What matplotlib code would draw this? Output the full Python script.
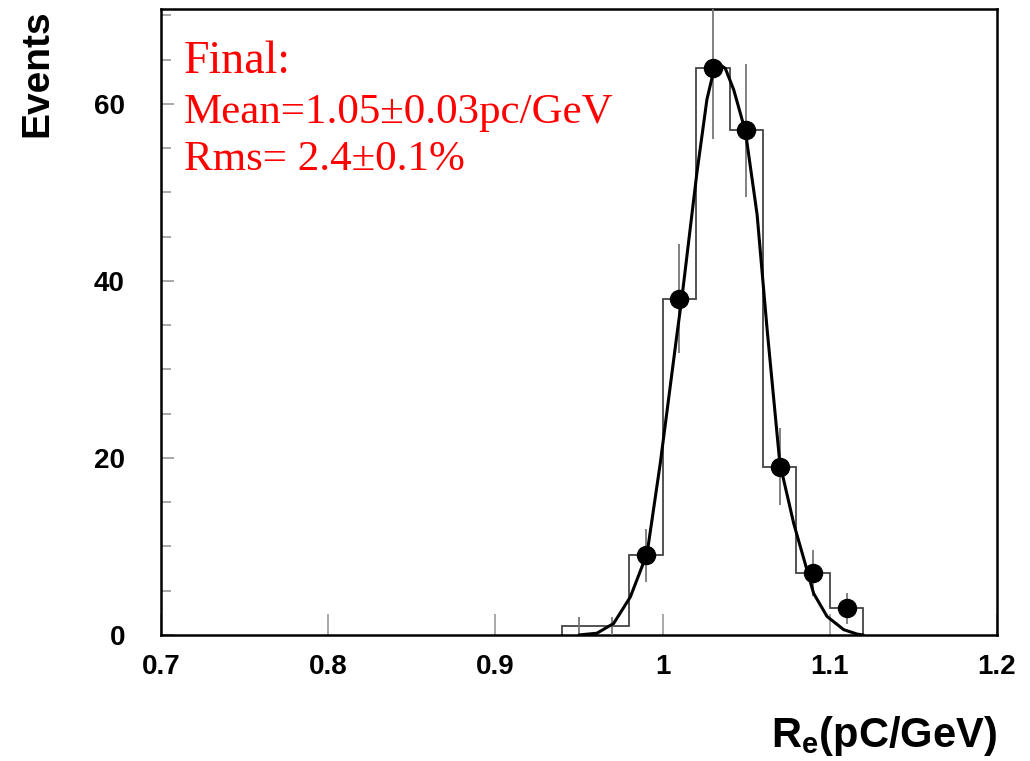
import numpy as np
import matplotlib
matplotlib.use("Agg")
import matplotlib.pyplot as plt

# histogram of R_e (bins of 0.02 pC/GeV)
bin_edges = [0.94, 0.96, 0.98, 1.00, 1.02, 1.04, 1.06, 1.08, 1.10, 1.12]
counts = [1, 1, 9, 38, 64, 57, 19, 7, 3]

# fitted curve, points
fit_x = [0.950, 0.9607, 0.9707, 0.9807, 0.9907, 0.9986, 1.0086, 1.0116,
         1.0205, 1.0265, 1.0305, 1.0345, 1.0375, 1.0425, 1.0495, 1.0565,
         1.0625, 1.0701, 1.0784, 1.0864, 1.0903, 1.0983, 1.1083, 1.1163, 1.120]
fit_y = [0.0, 0.2, 1.3, 4.3, 9.2, 19.4, 34.0, 38.2,
         52.2, 60.5, 63.7, 64.4, 64.0, 61.6, 56.9, 47.5,
         34.5, 19.4, 12.6, 7.3, 4.7, 2.1, 0.6, 0.1, 0.0]

text_lines = ["Final:", "Mean=1.05\u00b10.03pc/GeV", "Rms= 2.4\u00b10.1%"]

plt.rcParams["font.family"] = ["Liberation Sans", "DejaVu Sans"]
plt.rcParams["mathtext.fontset"] = "custom"
plt.rcParams["mathtext.rm"] = "Liberation Sans:bold"
plt.rcParams["mathtext.default"] = "rm"

fig = plt.figure(figsize=(10.30, 7.61), dpi=100)
ax = fig.add_axes([0.1563, 0.1656, 0.9680 - 0.1563, 0.988 - 0.1656])

edges = np.array(bin_edges)
cnt = np.array(counts, dtype=float)
centers = 0.5 * (edges[:-1] + edges[1:])

ax.stairs(cnt, edges, color="#444444", lw=1.3, zorder=2)
ax.errorbar(centers, cnt, yerr=np.sqrt(cnt), fmt="none", ecolor="#777777",
            elinewidth=1.3, capsize=0, zorder=3)
m = cnt > 1
ax.plot(centers[m], cnt[m], "o", color="black", ms=13, zorder=4)
ax.plot(fit_x, fit_y, color="black", lw=2.2, zorder=5, solid_capstyle="round")

ax.set_xlim(0.7, 1.2)
ax.set_ylim(0, 70.7)
ax.set_xticks([0.7, 0.8, 0.9, 1.0, 1.1, 1.2])
ax.set_xticklabels(["0.7", "0.8", "0.9", "1", "1.1", "1.2"])
ax.set_yticks([0, 20, 40, 60])
ax.set_yticks(np.arange(0, 71, 5), minor=True)

ax.tick_params(axis="both", which="both", direction="in", color="#999999",
               labelsize=20, width=1.2)
ax.tick_params(axis="x", which="major", length=15, pad=14)
ax.tick_params(axis="y", which="major", length=9, pad=26)
ax.tick_params(axis="y", which="minor", length=7)
for lab in ax.get_xticklabels() + ax.get_yticklabels():
    lab.set_fontweight("bold")

for sp in ax.spines.values():
    sp.set_linewidth(1.8)
    sp.set_color("black")

ax.set_xlabel("R$_{e}$(pC/GeV)", fontsize=30, fontweight="bold",
              loc="right", labelpad=24)
ax.set_ylabel("Events", fontsize=28, fontweight="bold", loc="top",
              labelpad=28)

serif = ["Liberation Serif", "DejaVu Serif"]
ax.text(0.027, 0.898, text_lines[0], transform=ax.transAxes, color="red",
        fontsize=33, family=serif, va="baseline", ha="left")
ax.text(0.027, 0.818, text_lines[1], transform=ax.transAxes, color="red",
        fontsize=31, family=serif, va="baseline", ha="left")
ax.text(0.027, 0.743, text_lines[2], transform=ax.transAxes, color="red",
        fontsize=31, family=serif, va="baseline", ha="left")

fig.savefig("out.png", dpi=100)
